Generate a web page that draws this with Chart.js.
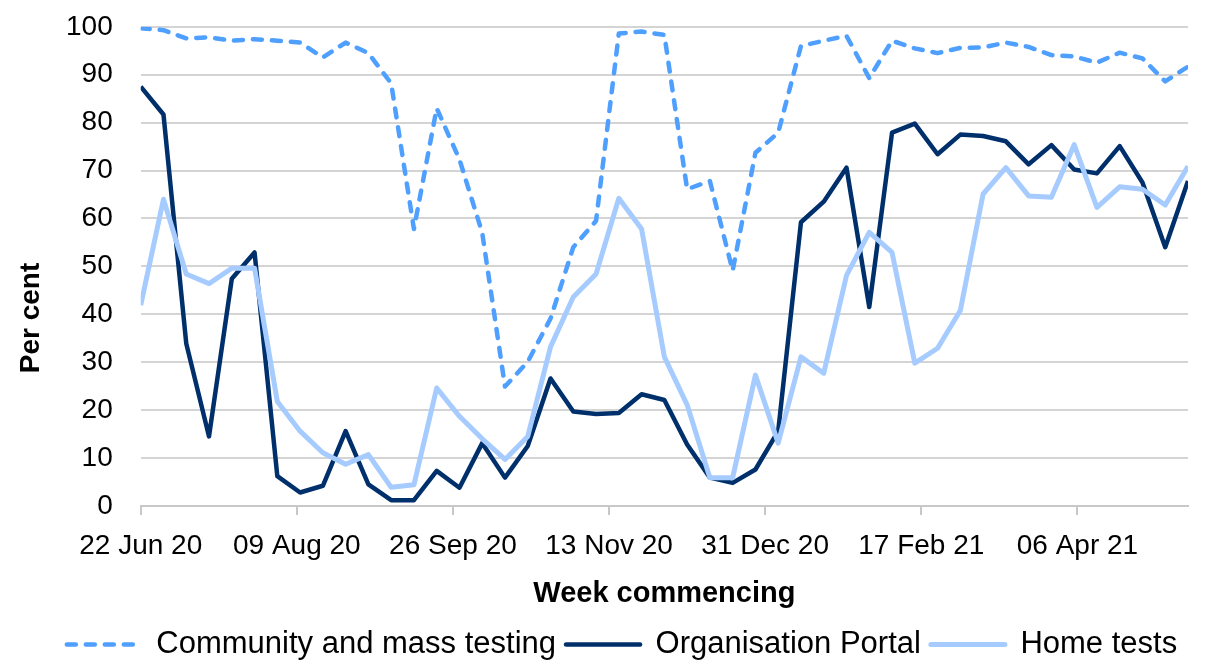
<!DOCTYPE html>
<html>
<head>
<meta charset="utf-8">
<script src="https://cdn.jsdelivr.net/npm/chart.js@4"></script>
<style>
  html, body { margin: 0; padding: 0; background: #fff; }
  #wrap { width: 1207px; height: 660px; }
</style>
</head>
<body>
<div id="wrap"><canvas id="testChart"></canvas></div>
<script>
// weekly share (%), week commencing 22 Jun 20 onwards
const community = [99.7, 99.3, 97.6, 97.8, 97.1, 97.4, 97.1, 96.7, 93.6, 96.7, 94.5, 88.2, 57.8, 83.0, 72.3, 57.0,
  24.9, 30.1, 39.1, 54.0, 59.5, 98.6, 99.0, 98.3, 66.1, 67.8, 49.1, 73.7, 77.9, 96.0, 97.1,
  98.1, 89.3, 97.1, 95.5, 94.5, 95.6, 95.7, 96.7, 95.8, 94.1, 93.8, 92.5, 94.6, 93.4, 88.6, 91.7];
const portal = [87.5, 81.7, 33.9, 14.5, 47.4, 52.9, 6.2, 2.8, 4.2, 15.6, 4.5, 1.2, 1.2, 7.3, 3.8, 13.1,
  5.9, 12.5, 26.6, 19.7, 19.2, 19.4, 23.3, 22.1, 12.8, 5.9, 4.8, 7.6, 15.6, 59.2, 63.5,
  70.6, 41.5, 77.9, 79.8, 73.4, 77.5, 77.2, 76.1, 71.3, 75.3, 70.2, 69.4, 75.1, 67.5, 54.0, 67.8];
const home = [41.9, 64.0, 48.4, 46.4, 49.6, 49.6, 21.8, 15.6, 11.1, 8.7, 10.7, 3.9, 4.4, 24.6, 18.7, 14.0,
  9.7, 14.5, 33.2, 43.6, 48.4, 64.2, 57.8, 31.1, 21.1, 5.9, 5.9, 27.3, 13.1, 31.1, 27.7,
  48.1, 57.1, 52.9, 29.8, 32.9, 40.8, 65.1, 70.6, 64.7, 64.4, 75.4, 62.3, 66.6, 66.1, 62.8, 70.9];

const tickLabels = ['22 Jun 20', '09 Aug 20', '26 Sep 20', '13 Nov 20', '31 Dec 20', '17 Feb 21', '06 Apr 21'];
const tickDays = [0, 48, 96, 144, 192, 240, 288];

// days since 22 Jun 20 for each weekly point
const days = community.map((v, i) => i * 7);
const pts = arr => arr.map((v, i) => ({ x: days[i], y: v }));

const font = '"Liberation Sans", Arial, sans-serif';

// y axis title sits a bit below the middle in the original
const yTitle = {
  id: 'yTitle',
  afterDraw(chart) {
    const ctx = chart.ctx;
    ctx.save();
    ctx.translate(31, 318);
    ctx.rotate(-Math.PI / 2);
    ctx.font = 'bold 28px ' + font;
    ctx.fillStyle = '#000';
    ctx.textAlign = 'center';
    ctx.textBaseline = 'middle';
    ctx.fillText('Per cent', 0, 0);
    ctx.restore();
  }
};

// legend samples: use the dataset's own line style
function legendLabels(chart) {
  const items = Chart.defaults.plugins.legend.labels.generateLabels(chart);
  items.forEach(it => {
    const ds = chart.data.datasets[it.datasetIndex];
    it.pointStyle = 'line';
    it.strokeStyle = ds.borderColor;
    it.lineWidth = ds.borderWidth;
    it.lineDash = ds.borderDash || [];
    it.lineCap = 'round';
  });
  return items;
}

const ctx = document.getElementById('testChart').getContext('2d');
new Chart(ctx, {
  type: 'line',
  data: {
    datasets: [{
      label: 'Community and mass testing',
      data: pts(community),
      borderColor: '#4f9fff',
      borderWidth: 4.5,
      borderDash: [9, 10],
      borderCapStyle: 'round',
      order: 2
    }, {
      label: 'Organisation Portal',
      data: pts(portal),
      borderColor: '#00306b',
      borderWidth: 4.5,
      order: 1
    }, {
      label: 'Home tests',
      data: pts(home),
      borderColor: '#a6cbff',
      borderWidth: 5,
      order: 0
    }]
  },
  options: {
    responsive: true,
    maintainAspectRatio: false,
    animation: false,
    layout: { padding: { left: 56, right: 19, top: 0, bottom: -10 } },
    elements: {
      point: { radius: 0 },
      line: { tension: 0, fill: false, borderJoinStyle: 'round' }
    },
    plugins: {
      tooltip: { enabled: false },
      legend: {
        position: 'bottom',
        labels: {
          color: '#000',
          font: { family: font, size: 31 },
          usePointStyle: true,
          pointStyle: 'line',
          pointStyleWidth: 74,
          boxHeight: 20,
          padding: 10,
          generateLabels: legendLabels,
          sort: (a, b) => a.datasetIndex - b.datasetIndex
        }
      }
    },
    scales: {
      x: {
        type: 'linear',
        min: 0,
        max: days[days.length - 1],
        afterBuildTicks: scale => { scale.ticks = tickDays.map(v => ({ value: v })); },
        ticks: {
          color: '#000',
          font: { family: font, size: 28 },
          maxRotation: 0,
          padding: 15,
          callback: v => tickLabels[tickDays.indexOf(v)]
        },
        grid: { drawOnChartArea: false, drawTicks: true, tickLength: 9, color: '#c8c8c8', lineWidth: 2 },
        border: { color: '#c8c8c8', width: 2 },
        title: {
          display: true,
          text: 'Week commencing',
          color: '#000',
          font: { family: font, size: 29, weight: 'bold', lineHeight: 1 },
          padding: { top: 1, bottom: 10.5 }
        }
      },
      y: {
        min: 0,
        max: 100,
        ticks: {
          stepSize: 10,
          color: '#000',
          font: { family: font, size: 28 },
          padding: 10
        },
        grid: { color: '#d4d4d4', lineWidth: 2, drawTicks: true, tickLength: 18, tickColor: 'rgba(0,0,0,0)' },
        border: { display: false }
      }
    }
  },
  plugins: [yTitle]
});
</script>
</body>
</html>
